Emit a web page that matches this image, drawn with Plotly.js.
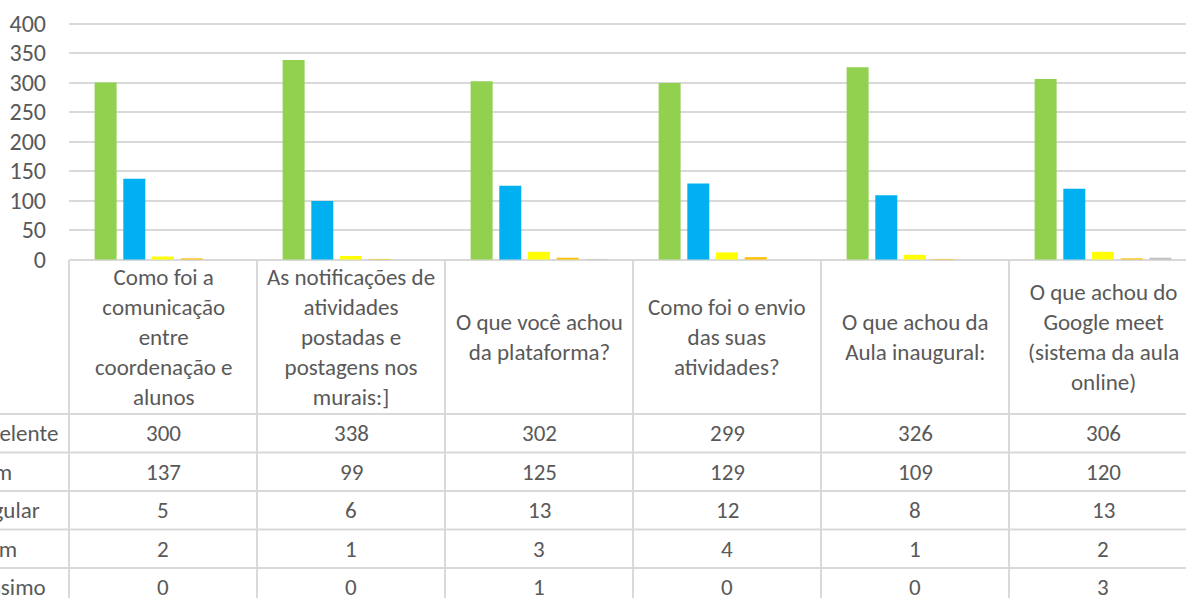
<!DOCTYPE html>
<html>
<head>
<meta charset="utf-8">
<script src="https://cdn.plot.ly/plotly-3.0.1.min.js"></script>
<style>html,body{margin:0;padding:0;overflow:hidden;background:#fff;}#chart{width:1186px;height:598px;}</style>
</head>
<body>
<div id="chart"></div>
<script>
// ---- data ----
const categories = [
  "Como foi a\ncomunicação\nentre\ncoordenação e\nalunos",
  "As notificações de\natividades\npostadas e\npostagens nos\nmurais:]",
  "O que você achou\nda plataforma?",
  "Como foi o envio\ndas suas\natividades?",
  "O que achou da\nAula inaugural:",
  "O que achou do\nGoogle meet\n(sistema da aula\nonline)"
];
const seriesNames = ["Excelente", "Bom", "Regular", "Ruim", "Péssimo"];
const excelente = [300, 338, 302, 299, 326, 306];
const bom       = [137, 99, 125, 129, 109, 120];
const regular   = [5, 6, 13, 12, 8, 13];
const ruim      = [2, 1, 3, 4, 1, 2];
const pessimo   = [0, 0, 1, 0, 0, 3];
const yTicks    = [0, 50, 100, 150, 200, 250, 300, 350, 400];

// ---- styling ----
const colors = ["#92D050", "#00B0F0", "#FFFF00", "#FFC000", "#BFBFBF"];
const FONT = "Carlito, Calibri, Lato, sans-serif";
const FS = 23;
const TXT = "#595959";
const LINE = "#D9D9D9";
const W = 1186, H = 598, L = 69;
const pxPerUnit = 0.59, zeroPx = 259.5;
const yOf = p => (zeroPx - p) / pxPerUnit;     // pixel row -> y value
const plotW = W - L;
const pxPerCat = 188;
const xMax = -0.5 + plotW / pxPerCat;
const xPaperOfPx = p => (p - L) / plotW;

const allSeries = [excelente, bom, regular, ruim, pessimo];
const labels = categories.map(c => c.split("\n").join("<br>"));
const xIdx = categories.map((c, i) => i);

const traces = allSeries.map((vals, s) => ({
  type: "bar", x: xIdx, y: vals, name: seriesNames[s],
  marker: {color: colors[s]}, hoverinfo: "x+y+name"
}));

// table geometry (pixel rows)
const headerTop = 260, headerBottom = 414, rowH = 38.5;
const shapes = [];
const annotations = [];
const hLines = [headerBottom];
for (let r = 1; r <= seriesNames.length; r++) hLines.push(headerBottom + r * rowH);
hLines.forEach(p => shapes.push({type: "line", xref: "paper", yref: "y",
  x0: xPaperOfPx(-5), x1: 1.01, y0: yOf(p), y1: yOf(p), line: {color: LINE, width: 2}, layer: "below"}));
shapes.push({type: "line", xref: "paper", yref: "y", x0: 0, x1: 1.01, y0: yOf(headerTop), y1: yOf(headerTop),
  line: {color: LINE, width: 2}, layer: "below"});
for (let c = 0; c <= categories.length; c++) {
  const xp = c === 0 ? 0 : xPaperOfPx(L + c * pxPerCat);
  shapes.push({type: "line", xref: "paper", yref: "y", x0: xp, x1: xp,
    y0: yOf(headerTop), y1: yOf(H + 20), line: {color: LINE, width: 2}, layer: "below"});
}
labels.forEach((t, i) => annotations.push({xref: "x", yref: "y", x: i, y: yOf((headerTop + headerBottom) / 2),
  text: t, showarrow: false, xanchor: "center", yanchor: "middle", align: "center",
  font: {family: FONT, size: FS, color: TXT}}));
seriesNames.forEach((n, r) => {
  const cy = yOf(headerBottom + (r + 0.5) * rowH);
  annotations.push({xref: "paper", yref: "y", x: xPaperOfPx(-33), y: cy, text: n, showarrow: false,
    xanchor: "left", yanchor: "middle", font: {family: FONT, size: FS, color: TXT}});
  allSeries[r].forEach((v, i) => annotations.push({xref: "x", yref: "y", x: i, y: cy, text: String(v),
    showarrow: false, xanchor: "center", yanchor: "middle", font: {family: FONT, size: FS, color: TXT}}));
});

const layout = {
  width: W, height: H,
  margin: {l: L, r: 0, t: 0, b: 0, pad: 0},
  paper_bgcolor: "#fff", plot_bgcolor: "#fff",
  barmode: "group", bargap: 0.237, bargroupgap: 0.233,
  showlegend: false,
  font: {family: FONT, color: TXT, size: FS},
  xaxis: {range: [-0.5, xMax], showticklabels: false, showgrid: false, zeroline: false, showline: false, fixedrange: true},
  yaxis: {range: [yOf(H), yOf(0)], tickvals: yTicks, ticktext: yTicks.map(String), showgrid: true,
    gridcolor: LINE, gridwidth: 2, zeroline: false, showline: false, ticks: "", ticklabelstandoff: 22,
    tickfont: {family: FONT, size: 24, color: TXT}, fixedrange: true},
  shapes: shapes, annotations: annotations
};

Plotly.newPlot("chart", traces, layout, {displayModeBar: false, staticPlot: true});
</script>
</body>
</html>
